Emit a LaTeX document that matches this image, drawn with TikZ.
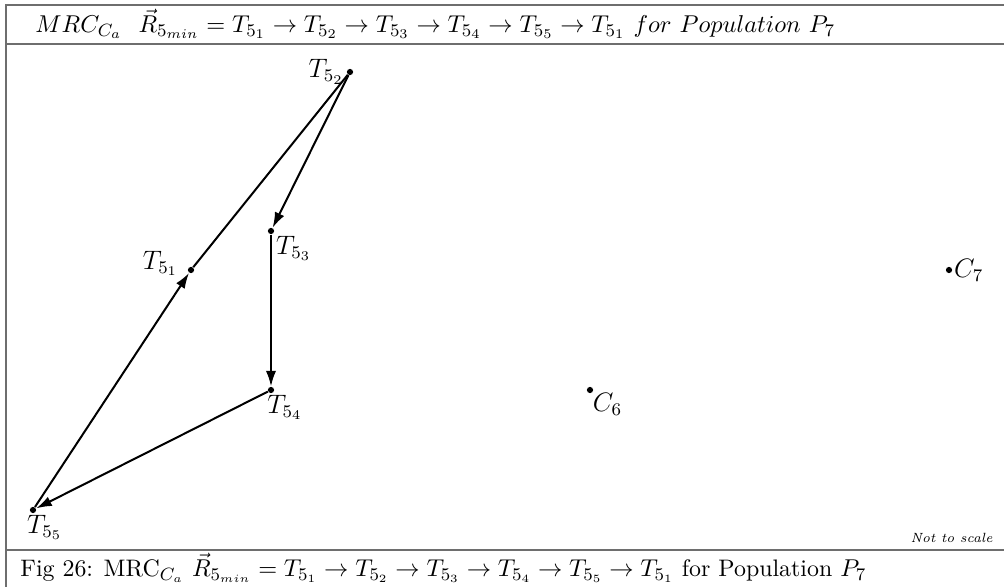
\documentclass[tikz,border=0pt]{standalone}
\usepackage{amsmath, amssymb}
\usepackage{xcolor}
\usetikzlibrary{arrows.meta, positioning, calc}
\definecolor{frameGray}{RGB}{110,110,110}

\begin{document}
\begin{tikzpicture}[x=0.45pt, y=-0.45pt,
    pt/.style={circle, fill=black, inner sep=0pt, minimum size=2.8pt},
    lbl/.style={inner sep=1pt, font=\large},
    tour/.style={line width=0.9pt, -{Latex[length=7pt, width=4.6pt]}},
    rule/.style={frameGray, line width=0.7pt}]
        \useasboundingbox (0,0) rectangle (1004,587);
        % frame and bars
        \draw[rule] (1004,5) -- (6,5) -- (6,587);
        \draw[rule] (6,44) -- (1004,44);
        \draw[rule] (6,550) -- (1004,550);
        \node[anchor=west, inner sep=0pt, font=\fontsize{11.2}{14}\selectfont] (title) at (35,24)
          {$MRC_{C_a}\ \ \vec{R}_{5_{min}}=T_{5_1}\to T_{5_2}\to T_{5_3}\to T_{5_4}\to T_{5_5}\to T_{5_1}\ for\ Population\ P_7$};
        \node[anchor=west, inner sep=0pt, font=\fontsize{10.75}{13}\selectfont] (caption) at (20,568)
          {Fig 26: MRC$_{C_a}$ $\vec{R}_{5_{min}}=T_{5_1}\to T_{5_2}\to T_{5_3}\to T_{5_4}\to T_{5_5}\to T_{5_1}$ for Population $P_7$};
        \node[anchor=east, inner sep=0pt, font=\fontsize{6}{7}\selectfont\itshape] (nts) at (993,538) {Not to scale};
        % tour points
        \node[pt, label={[lbl, anchor=east, xshift=-3pt, yshift=3pt]left:$T_{5_1}$}] (t1) at (191,270) {};
        \node[pt, label={[lbl]left:$T_{5_2}$}] (t2) at (350,72) {};
        \node[pt, label={[lbl]below right:$T_{5_3}$}] (t3) at (271,231) {};
        \node[pt, label={[lbl, anchor=north west, xshift=-4pt]below right:$T_{5_4}$}] (t4) at (271,390) {};
        \node[pt, label={[lbl, anchor=north west, xshift=-5pt]below right:$T_{5_5}$}] (t5) at (33,510) {};
        % centres
        \node[pt, label={[lbl, anchor=north west, inner sep=0pt]below right:$C_6$}] (c6) at (590,390) {};
        \node[pt, label={[lbl, inner sep=0.5pt]right:$C_7$}] (c7) at (949,270) {};
        % tour
        \draw[line width=0.9pt] (t1) -- (t2);
        \draw[tour] (t2) -- (t3);
        \draw[tour] (t3) -- (t4);
        \draw[tour] (t4) -- (t5);
        \draw[tour] (t5) -- (t1);
      \end{tikzpicture}
\end{document}
